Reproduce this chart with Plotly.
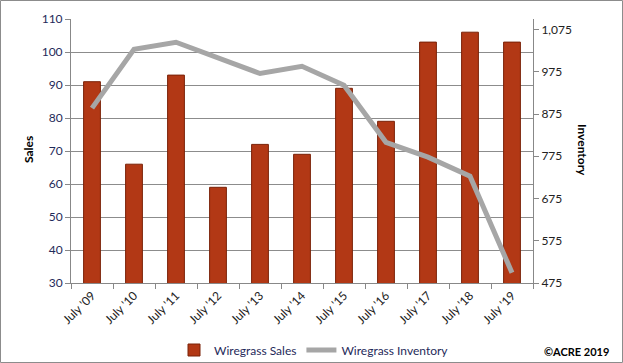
import plotly.graph_objects as go

categories = ["July '09", "July '10", "July '11", "July '12", "July '13", "July '14",
              "July '15", "July '16", "July '17", "July '18", "July '19"]
sales = [91, 66, 93, 59, 72, 69, 89, 79, 103, 106, 103]
inventory = [889, 1028, 1045, 1009, 971, 988, 943, 808, 773, 728, 499]
sales_ticks = [30, 40, 50, 60, 70, 80, 90, 100, 110]
inv_ticks = [475, 575, 675, 775, 875, 975, 1075]

W, H = 623, 363
L, R, T, B = 71, 90, 19, 80
pw, ph = W - L - R, H - T - B

def px_x(x):
    return (x - L) / pw

def px_y(y):
    return (H - B - y) / ph

font = "Lato, 'Open Sans', sans-serif"

fig = go.Figure()
fig.add_trace(go.Bar(
    x=categories, y=sales, name="Wiregrass Sales",
    marker=dict(color="#B23815", line=dict(color="#7A2208", width=1)),
    width=0.4, yaxis="y",
))
fig.add_trace(go.Scatter(
    x=categories, y=inventory, name="Wiregrass Inventory", mode="lines",
    line=dict(color="#A6A6A6", width=5), yaxis="y2",
))

fig.update_layout(
    width=W, height=H,
    margin=dict(l=L, r=R, t=T, b=B, autoexpand=False),
    paper_bgcolor="white", plot_bgcolor="white",
    font=dict(family=font, size=12, color="#222222"),
    showlegend=True,
    legend=dict(orientation="h", xref="container", yref="container",
                x=314 / W, y=(H - 350) / H, xanchor="center", yanchor="middle",
                font=dict(size=12, color="#1F2A5A"), itemwidth=30, bgcolor="rgba(0,0,0,0)"),
    bargap=0.6,
    xaxis=dict(
        type="category", tickangle=-45, showline=True, linecolor="#888888", linewidth=1,
        ticks="outside", ticklen=5, tickcolor="#888888", tickson="boundaries",
        showgrid=False, tickfont=dict(size=12, color="#222222"), automargin=False,
    ),
    yaxis=dict(
        range=[30, 110], tickvals=sales_ticks, showline=True, linecolor="#888888", linewidth=1,
        ticks="outside", ticklen=5, tickcolor="#888888", showgrid=True, gridcolor="#8C8C8C",
        gridwidth=1, zeroline=False, tickfont=dict(size=12, color="#1F2A5A"), automargin=False,
    ),
    yaxis2=dict(
        range=[475, 1100], tickvals=inv_ticks, tickformat=",", overlaying="y", side="right",
        showline=True, linecolor="#888888", linewidth=1, ticks="outside", ticklen=5,
        tickcolor="#888888", showgrid=False, zeroline=False, tickfont=dict(size=12, color="#222222"),
        automargin=False,
    ),
    annotations=[
        dict(text="<b>Sales</b>", xref="paper", yref="paper", x=px_x(28), y=px_y(150),
             textangle=-90, showarrow=False, font=dict(size=12, color="black"),
             xanchor="center", yanchor="middle"),
        dict(text="<b>Inventory</b>", xref="paper", yref="paper", x=px_x(583), y=px_y(150),
             textangle=90, showarrow=False, font=dict(size=12, color="black"),
             xanchor="center", yanchor="middle"),
        dict(text="<b>©ACRE 2019</b>", xref="paper", yref="paper", x=px_x(611), y=px_y(352),
             showarrow=False, font=dict(size=11, color="black"),
             xanchor="right", yanchor="middle"),
    ],
    shapes=[
        dict(type="rect", xref="paper", yref="paper",
             x0=px_x(0.5), x1=px_x(W - 0.5), y0=px_y(H - 0.5), y1=px_y(0.5),
             line=dict(color="#8C8C8C", width=1), fillcolor="rgba(0,0,0,0)", layer="below"),
    ],
)

fig.write_html(
    "out.html",
    config={"displayModeBar": False},
    post_script="document.body.style.margin='0';document.body.style.padding='0';",
)
